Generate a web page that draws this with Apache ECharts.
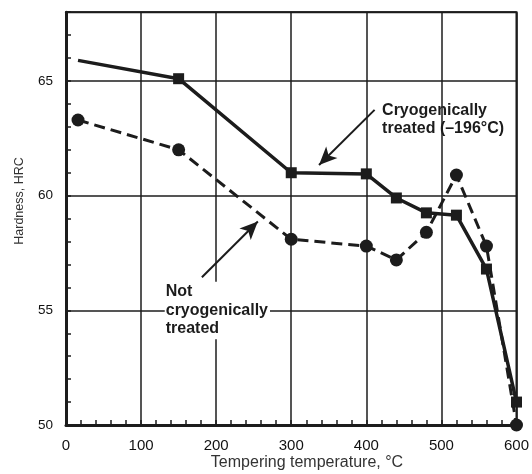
<!DOCTYPE html>
<html>
<head>
<meta charset="utf-8">
<script src="https://cdn.jsdelivr.net/npm/echarts@6/dist/echarts.min.js"></script>
<style>
  html, body { margin: 0; padding: 0; background: #fff; }
  #chart { width: 532px; height: 474px; }
</style>
</head>
<body>
<div id="chart"></div>
<script>
// Tempering temperature (°C) at which hardness was measured
const temps = [16, 150, 300, 400, 440, 480, 520, 560, 600];
// Hardness (HRC), cryogenically treated at -196 °C
const cryoHardness = [65.9, 65.1, 61.0, 60.95, 59.9, 59.25, 59.15, 56.8, 51.0];
// Hardness (HRC), not cryogenically treated
const plainHardness = [63.3, 62.0, 58.1, 57.8, 57.2, 58.4, 60.9, 57.8, 50.0];
// Labelled hardness ticks
const yLabelValues = [50, 55, 60, 65];

const ink = '#1c1c1c';
const sans = "'Liberation Sans', Arial, sans-serif";

const chart = echarts.init(document.getElementById('chart'), null, { renderer: 'canvas' });

const toPairs = (xs, ys) => xs.map((x, i) => [x, ys[i]]);

const option = {
  animation: false,
  backgroundColor: '#fff',
  grid: {
    left: 66, right: 10.5, top: 12.2, bottom: 49,
    show: true, borderColor: ink, borderWidth: 2, backgroundColor: 'transparent'
  },
  xAxis: {
    type: 'value', min: 0, max: 600, interval: 100,
    axisLine: { show: true, onZero: false, lineStyle: { color: ink, width: 3 } },
    axisTick: { show: true, inside: true, length: 5, lineStyle: { color: ink, width: 1.5 } },
    minorTick: { show: true, splitNumber: 5, length: 5, lineStyle: { color: ink, width: 1.5 } },
    axisLabel: {
      margin: 13, color: '#111', fontSize: 15, fontFamily: sans,
      formatter: v => String(v)
    },
    splitLine: { show: true, lineStyle: { color: ink, width: 1.5 } }
  },
  yAxis: [
    {
      type: 'value', min: 50, max: 68, interval: 5,
      axisLine: { show: true, onZero: false, lineStyle: { color: ink, width: 3 } },
      axisTick: { show: false },
      axisLabel: {
        margin: 13, color: '#111', fontSize: 13.5, fontFamily: sans,
        formatter: v => (yLabelValues.indexOf(v) >= 0 ? String(v) : '')
      },
      splitLine: { show: true, lineStyle: { color: ink, width: 1.5 } }
    },
    {
      type: 'value', min: 50, max: 68, interval: 1, position: 'left',
      axisLine: { show: false },
      axisTick: { show: true, inside: true, length: 5, lineStyle: { color: ink, width: 1.5 } },
      axisLabel: { show: false },
      splitLine: { show: false }
    }
  ],
  series: [
    {
      name: 'Cryogenically treated (-196°C)',
      type: 'line',
      yAxisIndex: 0,
      data: toPairs(temps, cryoHardness).map((p, i) =>
        i === 0 ? { value: p, symbol: 'none' } : { value: p }),
      symbol: 'rect', symbolSize: 11,
      itemStyle: { color: ink },
      lineStyle: { color: ink, width: 3.5 },
      z: 3,
      markLine: {
        silent: true,
        symbol: ['none', 'arrow'],
        symbolSize: [12, 18],
        label: { show: false },
        lineStyle: { color: ink, width: 2, type: 'solid' },
        data: [
          [{ coord: [411, 63.74] }, { coord: [337, 61.34] }],
          [{ coord: [181, 56.44] }, { coord: [255.5, 58.87] }]
        ]
      }
    },
    {
      name: 'Not cryogenically treated',
      type: 'line',
      yAxisIndex: 0,
      data: toPairs(temps, plainHardness),
      symbol: 'circle', symbolSize: 13,
      itemStyle: { color: ink },
      lineStyle: { color: ink, width: 3, type: [11, 6] },
      z: 3
    }
  ]
};

chart.setOption(option);

// Text annotations and axis titles, anchored in data space
const px = (x, y) => chart.convertToPixel({ gridIndex: 0 }, [x, y]);
const cryoAnchor = px(421, 64.1);
const plainAnchor = px(131.5, 56.25);

chart.setOption({
  graphic: [
    {
      type: 'text', left: cryoAnchor[0], top: cryoAnchor[1], z: 10,
      style: {
        text: 'Cryogenically\ntreated (\u2013196°C)',
        font: 'bold 16px ' + sans, fill: ink, lineHeight: 18
      }
    },
    {
      type: 'text', left: plainAnchor[0], top: plainAnchor[1], z: 10,
      style: {
        text: 'Not\ncryogenically\ntreated',
        font: 'bold 16px ' + sans, fill: ink, lineHeight: 18.5,
        backgroundColor: '#fff', padding: [1, 2, 1, 1]
      }
    },
    {
      type: 'text', x: 20, y: 201, rotation: Math.PI / 2, z: 10,
      style: {
        text: 'Hardness, HRC', font: '12.5px ' + sans, fill: '#333',
        align: 'center', verticalAlign: 'middle'
      }
    },
    {
      type: 'text', x: 307, y: 463, z: 10,
      style: {
        text: 'Tempering temperature, °C', font: '16px ' + sans, fill: '#333',
        align: 'center', verticalAlign: 'middle'
      }
    }
  ]
});
</script>
</body>
</html>
